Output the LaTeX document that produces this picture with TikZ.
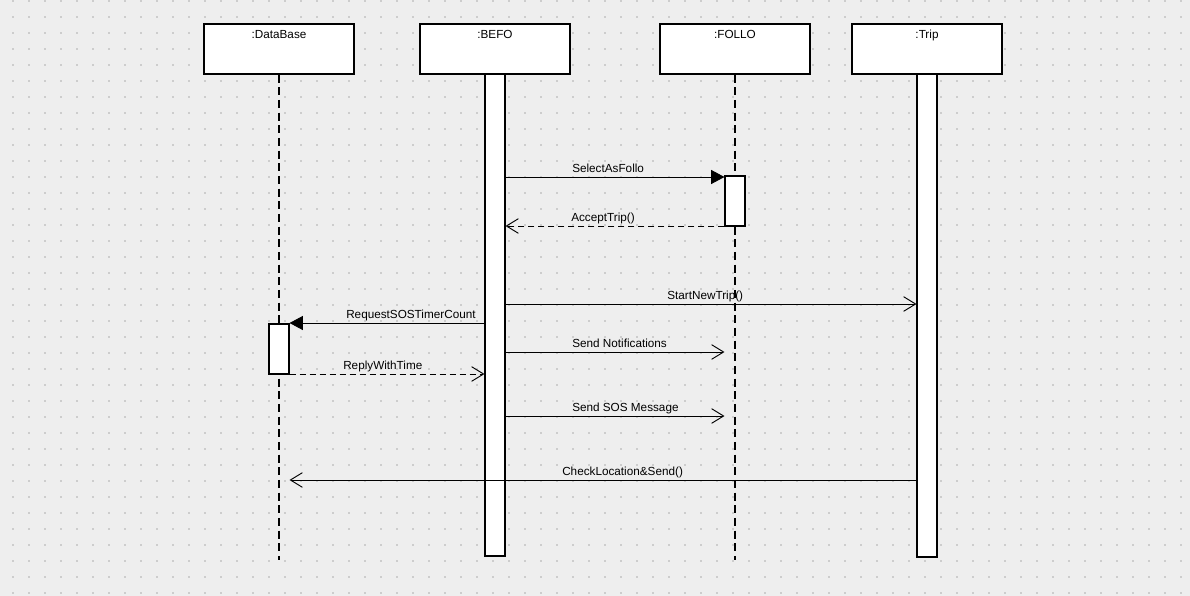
\documentclass[tikz,border=0pt]{standalone}
\usepackage{fontspec}
\setmainfont{Liberation Sans}
\usetikzlibrary{arrows.meta,shadows}
\definecolor{bg}{HTML}{EEEEEE}
\definecolor{griddot}{HTML}{CDCDCD}
\begin{document}
\begin{tikzpicture}[x=0.75pt,y=-0.75pt,
  every node/.style={font=\fontsize{8.8}{10}\selectfont},
  objbox/.style={draw=black, line width=0.8pt, fill=white, minimum width=112.5pt, minimum height=37.5pt, inner sep=0pt,
    drop shadow={shadow xshift=1.1pt, shadow yshift=-1.1pt, opacity=0.22}},
  actbar/.style={draw=black, line width=0.8pt, fill=white, minimum width=15pt, inner sep=0pt,
    drop shadow={shadow xshift=1.1pt, shadow yshift=-1.1pt, opacity=0.22}},
  lifeline/.style={draw=black, line width=1pt, dash pattern=on 6pt off 3.5pt},
  msg/.style={draw=black, line width=0.7pt},
  reply/.style={draw=black, line width=0.7pt, dash pattern=on 4.5pt off 3pt},
  synctip/.style={-{Triangle[length=10pt,width=10.5pt]}},
  opentip/.style={-{Straight Barb[length=9pt,width=11pt,line width=0.7pt]}},
  lbl/.style={anchor=base west, inner sep=0pt}]
\fill[bg] (0,0) rectangle (1190,596);
\useasboundingbox (0,0) rectangle (1190,596);
\foreach \x in {13,29,...,1190}{
  \foreach \y in {1,17,...,596}{
    \fill[griddot] (\x-0.6,\y-0.6) rectangle ++(1.2,1.2);
  }
}
% lifeline ends
\coordinate (dbend) at (279,560);
\coordinate (folloend) at (735,560);
% object boxes
\node[objbox] (db) at (279,49) {};
\node[objbox] (befo) at (495,49) {};
\node[objbox] (follo) at (735,49) {};
\node[objbox] (trip) at (927,49) {};
\node[anchor=base, inner sep=0pt] (dbt) at (279,38) {:DataBase};
\node[anchor=base, inner sep=0pt] (befot) at (495,38) {:BEFO};
\node[anchor=base, inner sep=0pt] (follot) at (735,38) {:FOLLO};
\node[anchor=base, inner sep=0pt] (tript) at (927,38) {:Trip};
% lifelines
\draw[lifeline] (db.south) -- (dbend);
\draw[lifeline] (follo.south) -- (folloend);
% activation bars
\node[actbar, minimum height=361.5pt] (befoact) at (495,315) {};
\node[actbar, minimum height=362.25pt] (tripact) at (927,315.5) {};
\node[actbar, minimum height=37.5pt] (folloact) at (735,201) {};
\node[actbar, minimum height=37.5pt] (dbact) at (279,349) {};
% message rows
\coordinate (r1) at (0,177);
\coordinate (r2) at (0,226);
\coordinate (r3) at (0,304);
\coordinate (r4) at (0,323);
\coordinate (r5) at (0,352);
\coordinate (r6) at (0,374);
\coordinate (r7) at (0,416);
\coordinate (r8) at (0,480);
% messages
\draw[msg, synctip] (befoact.east |- r1) -- (folloact.west |- r1);
\node[lbl] (m1) at (572,172) {SelectAsFollo};
\draw[reply, opentip] (folloact.west |- r2) -- (befoact.east |- r2);
\node[lbl] (m2) at (571,221) {AcceptTrip()};
\draw[msg, opentip] (befoact.east |- r3) -- (tripact.west |- r3);
\node[lbl] (m3) at (667,299) {StartNewTrip()};
\draw[msg, synctip] (befoact.west |- r4) -- (dbact.east |- r4);
\node[lbl] (m4) at (346,318) {RequestSOSTimerCount};
\draw[msg, opentip] (befoact.east |- r5) -- (folloact.west |- r5);
\node[lbl] (m5) at (572,347) {Send Notifications};
\draw[reply, opentip] (dbact.east |- r6) -- (befoact.west |- r6);
\node[lbl] (m6) at (343,369) {ReplyWithTime};
\draw[msg, opentip] (befoact.east |- r7) -- (folloact.west |- r7);
\node[lbl] (m7) at (572,411) {Send SOS Message};
\draw[msg, opentip] (tripact.west |- r8) -- (dbact.east |- r8);
\node[lbl] (m8) at (562,475) {CheckLocation\&Send()};
\end{tikzpicture}
\end{document}
